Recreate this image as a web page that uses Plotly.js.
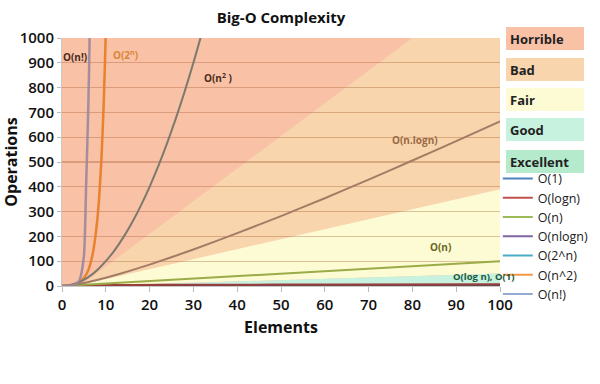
<!DOCTYPE html>
<html><head><meta charset="utf-8">
<script src="https://cdn.plot.ly/plotly-3.0.1.min.js"></script>
<style>html,body{margin:0;padding:0;background:#fff}#chart{width:600px;height:384px}</style>
</head><body><div id="chart"></div>
<script>
// Curves
const factX = [0, 1, 2, 3, 4, 5, 5.5, 6, 6.3, 7];
const factY = [1, 1, 2, 6, 24, 120, 400, 720, 1000, 5040];
const expX = [0, 1, 2, 3, 4, 5, 6, 7, 8, 8.5, 9, 9.5, 10, 10.5];
const expY = [1, 2, 4, 8, 16, 32, 64, 128, 256, 362, 512, 724, 1024, 1448];
const sqX = [0, 2, 4, 6, 8, 10, 12, 14, 16, 18, 20, 22, 24, 26, 28, 30, 32, 34];
const sqY = [0, 4, 16, 36, 64, 100, 144, 196, 256, 324, 400, 484, 576, 676, 784, 900, 1024, 1156];
const nlognX = [0, 1, 2, 4, 8, 10, 16, 20, 30, 40, 50, 60, 70, 80, 90, 100];
const nlognY = [0, 0, 2, 8, 24, 33, 64, 86, 147, 213, 282, 354, 429, 506, 584, 664];
const linX = [0, 100];
const linY = [0, 100];
const logX = [1, 2, 4, 8, 16, 32, 64, 100];
const logY = [0, 1, 2, 3, 4, 5, 6, 6.6];
const constX = [0, 100];
const constY = [1, 1];

// Complexity zones (polygon corners)
const badX = [4, 80, 100, 100, 3];
const badY = [0, 1000, 1000, 390, 0];
const fairX = [3, 100, 100, 5];
const fairY = [0, 390, 50, 0];
const goodX = [5, 100, 100];
const goodY = [0, 50, 0];

const zoneNames = ['Horrible', 'Bad', 'Fair', 'Good', 'Excellent'];
const legendNames = ['O(1)', 'O(logn)', 'O(n)', 'O(nlogn)', 'O(2^n)', 'O(n^2)', 'O(n!)'];
const xTicks = [0, 10, 20, 30, 40, 50, 60, 70, 80, 90, 100];
const yTicks = [0, 100, 200, 300, 400, 500, 600, 700, 800, 900, 1000];

const zoneColors = ['#f9c1a6', '#f8d5ad', '#fdfbd4', '#c6f2df', '#b6eacd'];
const legendColors = ['#4f81bd', '#c0504d', '#9bbb59', '#8064a2', '#4bacc6', '#f79646', '#95a9d2'];

function pathOf(xs, ys) {
  return 'M' + xs.map((x, i) => x + ',' + ys[i]).join(' L') + ' Z';
}
const shapes = [
  [badX, badY, zoneColors[1]],
  [fairX, fairY, zoneColors[2]],
  [goodX, goodY, zoneColors[3]]
].map(([xs, ys, c]) => ({
  type: 'path', xref: 'x', yref: 'y', path: pathOf(xs, ys),
  fillcolor: c, line: {width: 0}, layer: 'below'
}));

function curve(x, y, color, w) {
  return {x: x, y: y, mode: 'lines', showlegend: false, hoverinfo: 'skip',
    line: {color: color, width: w, shape: 'spline', smoothing: 0.6}};
}
const traces = [
  curve(constX, constY, '#5e4a55', 1.5),
  curve(logX, logY, '#9a3d3d', 2),
  curve(linX, linY, '#9aab48', 2),
  curve(nlognX, nlognY, '#a47c66', 2),
  curve(expX, expY, '#e8822e', 2.5),
  curve(sqX, sqY, '#7b7a6c', 2),
  curve(factX, factY, 'rgba(155,135,155,0.9)', 2.5)
];
legendNames.forEach((n, i) => {
  traces.push({x: [null], y: [null], mode: 'lines', name: n,
    line: {color: legendColors[i], width: 2}});
});

const F = 'Open Sans, sans-serif';
const lbl = (x, y, t, c) => ({x: x, y: y, xref: 'x', yref: 'y', text: t, showarrow: false,
  font: {family: F, size: 10, color: c, weight: 700}});
const annotations = [
  lbl(3, 923, 'O(n!)', '#4a2a20'),
  lbl(14.4, 931, 'O(2<sup>n</sup>)', '#d9873a'),
  lbl(35.6, 839, 'O(n<sup>2</sup> )', '#4a2a20'),
  lbl(80.6, 589, 'O(n.logn)', '#9a6a44'),
  lbl(86.5, 157, 'O(n)', '#6b6520'),
  lbl(96.2, 40, 'O(log n), O(1)', '#1a5a3a')
];
annotations[5].font.size = 9.5;
const zoneY = [0.998, 0.875, 0.752, 0.631, 0.504];
zoneNames.forEach((n, i) => {
  annotations.push({xref: 'paper', yref: 'paper', x: 1.0137, y: zoneY[i],
    xanchor: 'left', yanchor: 'middle', text: n, showarrow: false, align: 'left',
    width: 70, height: 15, borderpad: 4, bgcolor: zoneColors[i], borderwidth: 0,
    font: {family: F, size: 13, color: '#222', weight: 700}});
});

const layout = {
  width: 600, height: 384,
  margin: {l: 62, r: 100, t: 38, b: 98, autoexpand: false},
  paper_bgcolor: '#fff', plot_bgcolor: zoneColors[0],
  title: {text: 'Big-O Complexity', x: 0.5, xref: 'paper', y: 0.953, yref: 'container',
    yanchor: 'middle', font: {family: F, size: 15, color: '#111', weight: 700}},
  xaxis: {range: [0, 100], tickvals: xTicks, ticktext: xTicks.map(String),
    showgrid: false, zeroline: false, showline: true, linecolor: '#c8c8c8',
    ticks: 'outside', ticklen: 5, tickcolor: '#bbb', automargin: false,
    tickfont: {family: F, size: 15, color: '#111', weight: 600},
    title: {text: 'Elements', standoff: 8, font: {family: F, size: 16, color: '#111', weight: 700}}},
  yaxis: {range: [0, 1000], tickvals: yTicks, ticktext: yTicks.map(String),
    showgrid: true, gridcolor: 'rgba(160,90,40,0.35)', gridwidth: 1.2, zeroline: false,
    showline: true, linecolor: '#c8c8c8', ticks: 'outside', ticklen: 4, tickcolor: '#bbb',
    automargin: false,
    tickfont: {family: F, size: 15, color: '#111', weight: 600},
    title: {text: 'Operations', standoff: 4, font: {family: F, size: 16, color: '#111', weight: 700}}},
  showlegend: true,
  legend: {x: 0.995, xanchor: 'left', y: 0.492, yanchor: 'top', bgcolor: 'rgba(0,0,0,0)',
    font: {family: F, size: 12.5, color: '#1a1a1a'}, itemwidth: 30, tracegroupgap: 0},
  shapes: shapes,
  annotations: annotations
};
Plotly.newPlot('chart', traces, layout, {displayModeBar: false, staticPlot: true});
</script></body></html>
